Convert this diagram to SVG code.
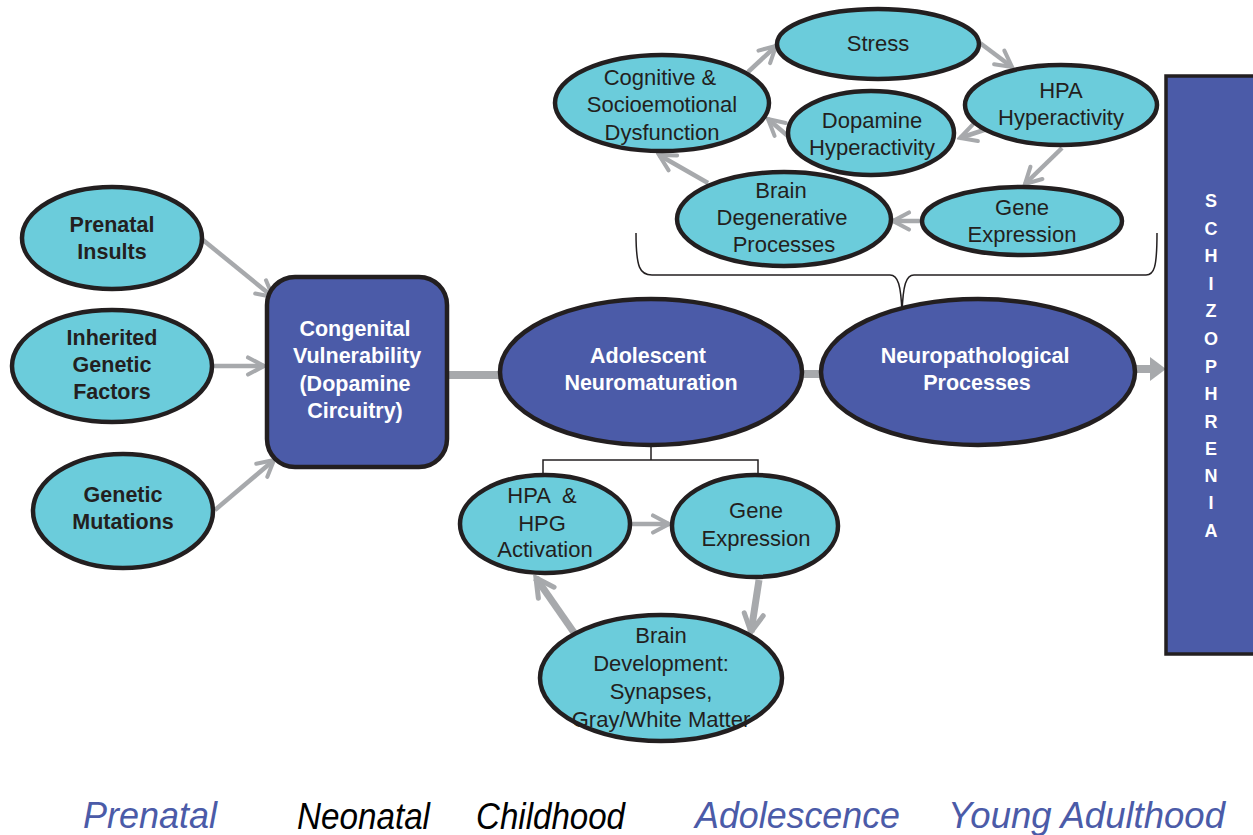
<svg xmlns="http://www.w3.org/2000/svg" width="1253" height="835" viewBox="0 0 1253 835">
<style>
.cy{fill:#6BCCDB;stroke:#231F20;stroke-width:4.5}
.bl{fill:#4B5BA8;stroke:#231F20;stroke-width:4.5}
.t{font-family:"Liberation Sans",Arial,sans-serif;font-size:22px;fill:#231F20;text-anchor:middle}
.tb{font-family:"Liberation Sans",Arial,sans-serif;font-size:21.5px;font-weight:bold;fill:#231F20;text-anchor:middle}
.tw{font-family:"Liberation Sans",Arial,sans-serif;font-size:21.5px;font-weight:bold;fill:#FFFFFF;text-anchor:middle}
.ts{font-family:"Liberation Sans",Arial,sans-serif;font-size:18px;font-weight:bold;fill:#FFFFFF;text-anchor:middle}
.ar{fill:none;stroke:#A7A9AC;stroke-width:4.5}
.ark{fill:none;stroke:#A7A9AC;stroke-width:7}
.bar{fill:none;stroke:#A7A9AC;stroke-width:8}
.br{fill:none;stroke:#231F20;stroke-width:1.5}
.era{font-family:"Liberation Sans",Arial,sans-serif;font-style:italic;font-size:37px}
</style>
<defs>
<marker id="chev" viewBox="0 0 10 10" refX="8.6" refY="5" markerWidth="5" markerHeight="5" orient="auto" markerUnits="strokeWidth">
<path d="M1.5,1.2 L8.6,5 L1.5,8.8" fill="none" stroke="#A7A9AC" stroke-width="1.8" stroke-linecap="round" stroke-linejoin="miter"/>
</marker>
<marker id="chevk" viewBox="0 0 10 10" refX="8.6" refY="5" markerWidth="3.6" markerHeight="3.6" orient="auto" markerUnits="strokeWidth">
<path d="M1.5,1.2 L8.6,5 L1.5,8.8" fill="none" stroke="#A7A9AC" stroke-width="2" stroke-linecap="round"/>
</marker>
</defs>

<g id="connectors">
<line class="ar" x1="203" y1="240" x2="273" y2="297" marker-end="url(#chev)"/>
<line class="ar" x1="214" y1="366" x2="264" y2="366" marker-end="url(#chev)"/>
<line class="ar" x1="215" y1="510" x2="274" y2="460" marker-end="url(#chev)"/>
<line class="bar" x1="447" y1="375" x2="501" y2="375"/>
<line class="bar" x1="801" y1="374" x2="823" y2="374"/>
<line class="bar" x1="1135" y1="369" x2="1150" y2="369"/>
<polygon points="1150,357 1166,369 1150,381" fill="#A7A9AC"/>
<line class="ar" x1="748" y1="72" x2="776" y2="46" marker-end="url(#chev)"/>
<line class="ar" x1="980" y1="43" x2="1012" y2="67" marker-end="url(#chev)"/>
<line class="ar" x1="990" y1="128" x2="960" y2="138" marker-end="url(#chev)"/>
<line class="ar" x1="1062" y1="148" x2="1025" y2="184" marker-end="url(#chev)"/>
<line class="ar" x1="922" y1="221" x2="893" y2="221" marker-end="url(#chev)"/>
<line class="ar" x1="789" y1="137" x2="768" y2="119" marker-end="url(#chev)"/>
<line class="ar" x1="708" y1="183" x2="659" y2="155" marker-end="url(#chev)"/>
<path class="br" d="M636,233 C636,268 640,275 652,275 L890,275 C898,275 901,285 902,313 C903,285 906,275 914,275 L1146,275 C1154,275 1157,268 1157,233"/>
<path class="br" d="M651,445 L651,460 M543,476 L543,460 L758,460 L758,476"/>
<line class="ar" x1="632" y1="524" x2="669" y2="524" marker-end="url(#chev)"/>
<line class="ark" x1="759" y1="580" x2="751" y2="632" marker-end="url(#chevk)"/>
<line class="ark" x1="575" y1="634" x2="536" y2="578" marker-end="url(#chevk)"/>
</g>

<g id="prenatal-insults">
<ellipse class="cy" cx="112" cy="238" rx="90" ry="51"/>
<text class="tb" x="112" y="232">Prenatal</text>
<text class="tb" x="112" y="259">Insults</text>
</g>
<g id="inherited-genetic-factors">
<ellipse class="cy" cx="112" cy="366" rx="100" ry="56"/>
<text class="tb" x="112" y="345">Inherited</text>
<text class="tb" x="112" y="372">Genetic</text>
<text class="tb" x="112" y="399">Factors</text>
</g>
<g id="genetic-mutations">
<ellipse class="cy" cx="123" cy="511" rx="90" ry="57"/>
<text class="tb" x="123" y="502">Genetic</text>
<text class="tb" x="123" y="529">Mutations</text>
</g>
<g id="congenital-vulnerability">
<rect class="bl" x="267" y="277" width="180" height="190" rx="28"/>
<text class="tw" x="355" y="336">Congenital</text>
<text class="tw" x="357" y="363">Vulnerability</text>
<text class="tw" x="355" y="391">(Dopamine</text>
<text class="tw" x="355" y="418">Circuitry)</text>
</g>
<g id="adolescent-neuromaturation">
<ellipse class="bl" cx="651" cy="372" rx="151" ry="73"/>
<text class="tw" x="648" y="363">Adolescent</text>
<text class="tw" x="651" y="390">Neuromaturation</text>
</g>
<g id="neuropathological-processes">
<ellipse class="bl" cx="978" cy="372" rx="157" ry="73"/>
<text class="tw" x="975" y="363">Neuropathological</text>
<text class="tw" x="977" y="390">Processes</text>
</g>
<g id="schizophrenia">
<rect x="1166" y="76" width="100" height="578" fill="#4B5BA8" stroke="#231F20" stroke-width="3.5"/>
<text class="ts" x="1211" y="207">S</text>
<text class="ts" x="1211" y="235">C</text>
<text class="ts" x="1211" y="262">H</text>
<text class="ts" x="1211" y="290">I</text>
<text class="ts" x="1211" y="317">Z</text>
<text class="ts" x="1211" y="345">O</text>
<text class="ts" x="1211" y="373">P</text>
<text class="ts" x="1211" y="400">H</text>
<text class="ts" x="1211" y="428">R</text>
<text class="ts" x="1211" y="455">E</text>
<text class="ts" x="1211" y="482">N</text>
<text class="ts" x="1211" y="509">I</text>
<text class="ts" x="1211" y="537">A</text>
</g>
<g id="stress">
<ellipse class="cy" cx="878" cy="44" rx="101" ry="35"/>
<text class="t" x="878" y="51">Stress</text>
</g>
<g id="cognitive-socioemotional-dysfunction">
<ellipse class="cy" cx="662" cy="103" rx="107" ry="48"/>
<text class="t" x="660" y="85">Cognitive &amp;</text>
<text class="t" x="662" y="112">Socioemotional</text>
<text class="t" x="662" y="140">Dysfunction</text>
</g>
<g id="dopamine-hyperactivity">
<ellipse class="cy" cx="871" cy="133" rx="83" ry="42"/>
<text class="t" x="872" y="128">Dopamine</text>
<text class="t" x="872" y="155">Hyperactivity</text>
</g>
<g id="hpa-hyperactivity">
<ellipse class="cy" cx="1061" cy="105" rx="96" ry="40"/>
<text class="t" x="1061" y="98">HPA</text>
<text class="t" x="1061" y="125">Hyperactivity</text>
</g>
<g id="gene-expression-top">
<ellipse class="cy" cx="1022" cy="221" rx="100" ry="34"/>
<text class="t" x="1022" y="215">Gene</text>
<text class="t" x="1022" y="242">Expression</text>
</g>
<g id="brain-degenerative-processes">
<ellipse class="cy" cx="784" cy="219" rx="107" ry="47"/>
<text class="t" x="781" y="198">Brain</text>
<text class="t" x="782" y="225">Degenerative</text>
<text class="t" x="784" y="252">Processes</text>
</g>
<g id="hpa-hpg-activation">
<ellipse class="cy" cx="545" cy="524" rx="85" ry="49"/>
<text class="t" x="542" y="503" xml:space="preserve">HPA  &amp;</text>
<text class="t" x="542" y="531">HPG</text>
<text class="t" x="545" y="557">Activation</text>
</g>
<g id="gene-expression-bottom">
<ellipse class="cy" cx="755" cy="526" rx="83" ry="51"/>
<text class="t" x="756" y="518">Gene</text>
<text class="t" x="756" y="546">Expression</text>
</g>
<g id="brain-development">
<ellipse class="cy" cx="661" cy="678" rx="121" ry="63"/>
<text class="t" x="661" y="643">Brain</text>
<text class="t" x="661" y="671">Development:</text>
<text class="t" x="661" y="699">Synapses,</text>
<text class="t" x="661" y="727">Gray/White Matter</text>
</g>

<g id="eras">
<text class="era" x="83" y="828" fill="#4B5BA8" textLength="134" lengthAdjust="spacingAndGlyphs">Prenatal</text>
<text class="era" x="297" y="829" fill="#000000" font-size="38" textLength="133" lengthAdjust="spacingAndGlyphs">Neonatal</text>
<text class="era" x="476" y="829" fill="#000000" font-size="38" textLength="149" lengthAdjust="spacingAndGlyphs">Childhood</text>
<text class="era" x="695" y="828" fill="#4B5BA8" textLength="205" lengthAdjust="spacingAndGlyphs">Adolescence</text>
<text class="era" x="948" y="828" fill="#4B5BA8" textLength="277" lengthAdjust="spacingAndGlyphs">Young Adulthood</text>
</g>
</svg>
